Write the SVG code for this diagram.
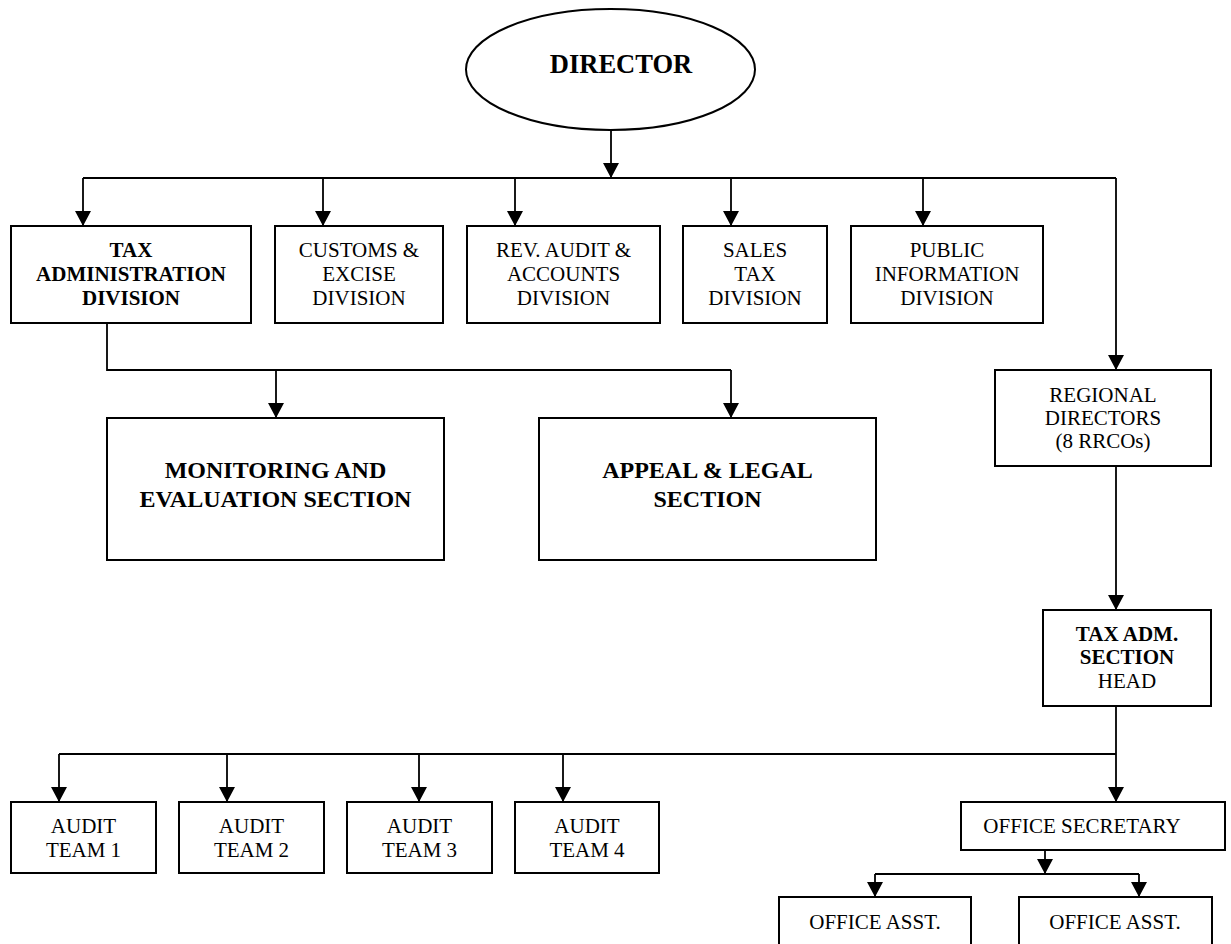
<svg xmlns="http://www.w3.org/2000/svg" width="1231" height="944" viewBox="0 0 1231 944">
<style>
.box{fill:#fff;stroke:#000;stroke-width:2}
.ln{fill:none;stroke:#000;stroke-width:1.8}
.ar{fill:none;stroke:#000;stroke-width:1.8;marker-end:url(#ah)}
text{font-family:"Liberation Serif","Times New Roman",serif;font-size:21px;fill:#000;text-anchor:middle}
.b{font-weight:bold}
.big{font-weight:bold;font-size:24px}
</style>
<defs>
<marker id="ah" viewBox="0 0 15 16" refX="15" refY="8" markerWidth="15" markerHeight="16" orient="auto" markerUnits="userSpaceOnUse">
<path d="M0,0 L15,8 L0,16 z" fill="#000"/>
</marker>
</defs>
<rect width="1231" height="944" fill="#fff"/>
<g id="connectors">
<line class="ar" x1="611" y1="130" x2="611" y2="178"/>
<line class="ln" x1="83" y1="178" x2="1116" y2="178"/>
<line class="ar" x1="83" y1="178" x2="83" y2="226"/>
<line class="ar" x1="323" y1="178" x2="323" y2="226"/>
<line class="ar" x1="515" y1="178" x2="515" y2="226"/>
<line class="ar" x1="731" y1="178" x2="731" y2="226"/>
<line class="ar" x1="923" y1="178" x2="923" y2="226"/>
<line class="ar" x1="1116" y1="178" x2="1116" y2="370"/>
<path class="ln" d="M107,323 V370 H731"/>
<line class="ar" x1="276" y1="370" x2="276" y2="418"/>
<line class="ar" x1="731" y1="370" x2="731" y2="418"/>
<line class="ar" x1="1116" y1="466" x2="1116" y2="610"/>
<line class="ar" x1="1116" y1="706" x2="1116" y2="802"/>
<line class="ln" x1="59" y1="754" x2="1116" y2="754"/>
<line class="ar" x1="59" y1="754" x2="59" y2="802"/>
<line class="ar" x1="227" y1="754" x2="227" y2="802"/>
<line class="ar" x1="419" y1="754" x2="419" y2="802"/>
<line class="ar" x1="563" y1="754" x2="563" y2="802"/>
<line class="ar" x1="1045" y1="850" x2="1045" y2="874"/>
<line class="ln" x1="875" y1="874" x2="1139" y2="874"/>
<line class="ar" x1="875" y1="874" x2="875" y2="897"/>
<line class="ar" x1="1139" y1="874" x2="1139" y2="897"/>
</g>
<g id="director">
<ellipse class="box" cx="610.5" cy="69.5" rx="144.5" ry="60.5"/>
<text class="b" x="621" y="73" style="font-size:26.5px">DIRECTOR</text>
</g>
<g id="tax-admin-division">
<rect class="box" x="11" y="226" width="240" height="97"/>
<text class="b" x="131" y="257">TAX</text>
<text class="b" x="131" y="281">ADMINISTRATION</text>
<text class="b" x="131" y="305">DIVISION</text>
</g>
<g id="customs">
<rect class="box" x="275" y="226" width="168" height="97"/>
<text x="359" y="257">CUSTOMS &amp;</text>
<text x="359" y="281">EXCISE</text>
<text x="359" y="305">DIVISION</text>
</g>
<g id="rev-audit">
<rect class="box" x="467" y="226" width="193" height="97"/>
<text x="563.5" y="257">REV. AUDIT &amp;</text>
<text x="563.5" y="281">ACCOUNTS</text>
<text x="563.5" y="305">DIVISION</text>
</g>
<g id="sales-tax">
<rect class="box" x="683" y="226" width="144" height="97"/>
<text x="755" y="257">SALES</text>
<text x="755" y="281">TAX</text>
<text x="755" y="305">DIVISION</text>
</g>
<g id="public-info">
<rect class="box" x="851" y="226" width="192" height="97"/>
<text x="947" y="257">PUBLIC</text>
<text x="947" y="281">INFORMATION</text>
<text x="947" y="305">DIVISION</text>
</g>
<g id="monitoring">
<rect class="box" x="107" y="418" width="337" height="142"/>
<text class="big" x="275.5" y="478">MONITORING AND</text>
<text class="big" x="275.5" y="507">EVALUATION SECTION</text>
</g>
<g id="appeal">
<rect class="box" x="539" y="418" width="337" height="142"/>
<text class="big" x="707.5" y="478">APPEAL &amp; LEGAL</text>
<text class="big" x="707.5" y="507">SECTION</text>
</g>
<g id="regional">
<rect class="box" x="995" y="370" width="216" height="96"/>
<text x="1103" y="402">REGIONAL</text>
<text x="1103" y="425">DIRECTORS</text>
<text x="1103" y="448">(8 RRCOs)</text>
</g>
<g id="tax-adm-section">
<rect class="box" x="1043" y="610" width="168" height="96"/>
<text class="b" x="1127" y="641">TAX ADM.</text>
<text class="b" x="1127" y="664">SECTION</text>
<text x="1127" y="688">HEAD</text>
</g>
<g id="audit1">
<rect class="box" x="11" y="802" width="145" height="71"/>
<text x="83.5" y="833">AUDIT</text>
<text x="83.5" y="857">TEAM 1</text>
</g>
<g id="audit2">
<rect class="box" x="179" y="802" width="145" height="71"/>
<text x="251.5" y="833">AUDIT</text>
<text x="251.5" y="857">TEAM 2</text>
</g>
<g id="audit3">
<rect class="box" x="347" y="802" width="145" height="71"/>
<text x="419.5" y="833">AUDIT</text>
<text x="419.5" y="857">TEAM 3</text>
</g>
<g id="audit4">
<rect class="box" x="515" y="802" width="144" height="71"/>
<text x="587" y="833">AUDIT</text>
<text x="587" y="857">TEAM 4</text>
</g>
<g id="office-secretary">
<rect class="box" x="961" y="802" width="264" height="48"/>
<text x="1082" y="833">OFFICE SECRETARY</text>
</g>
<g id="office-asst-1">
<rect class="box" x="779" y="897" width="192" height="70"/>
<text x="875" y="929">OFFICE ASST.</text>
</g>
<g id="office-asst-2">
<rect class="box" x="1019" y="897" width="193" height="70"/>
<text x="1115" y="929">OFFICE ASST.</text>
</g>
</svg>
